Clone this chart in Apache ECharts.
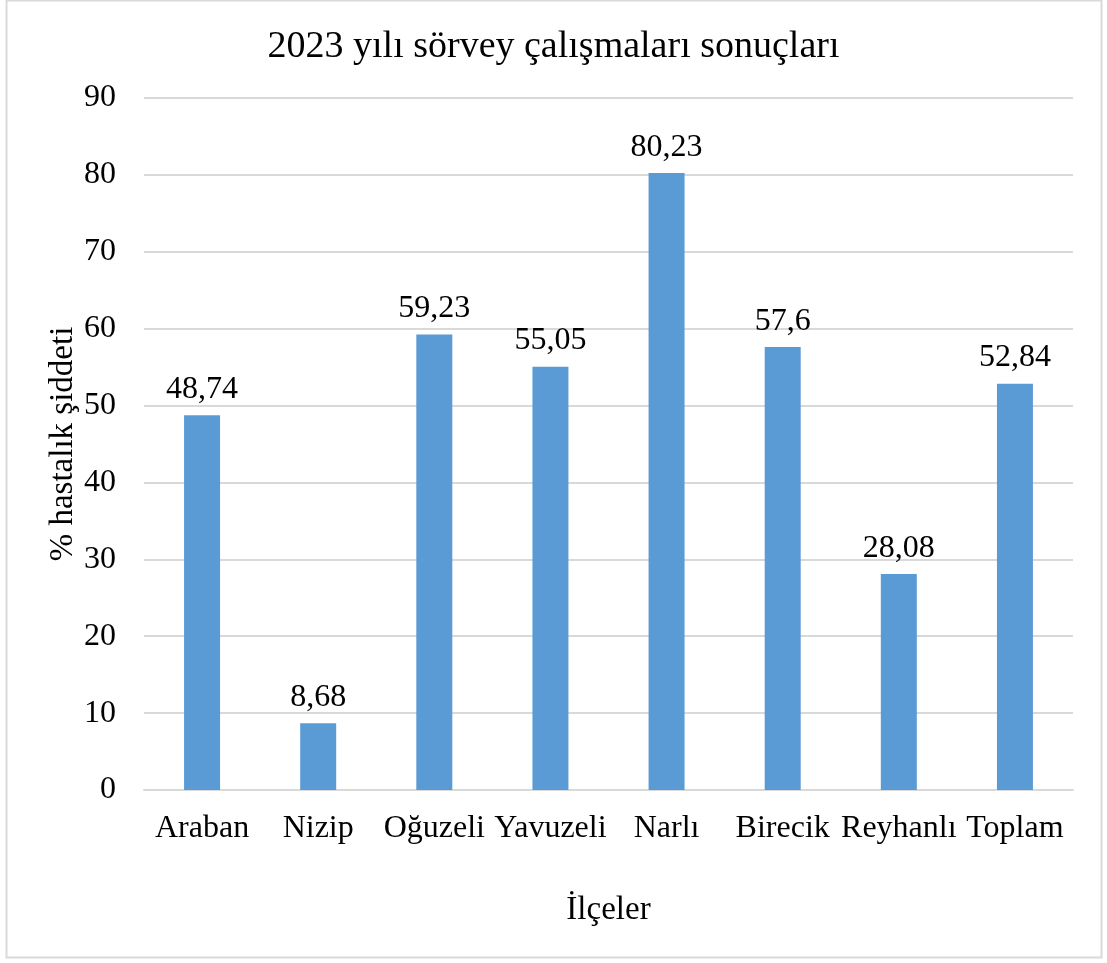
<!DOCTYPE html>
<html>
<head>
<meta charset="utf-8">
<script src="https://cdn.jsdelivr.net/npm/echarts@6/dist/echarts.min.js"></script>
<style>
  html, body { margin: 0; padding: 0; background: #ffffff; }
  #chart { width: 1107px; height: 963px; }
</style>
</head>
<body>
<div id="chart"></div>
<script>
// İlçe bazında hastalık şiddeti (%)
const categories = ['Araban', 'Nizip', 'Oğuzeli', 'Yavuzeli', 'Narlı', 'Birecik', 'Reyhanlı', 'Toplam'];
const severity = [48.74, 8.68, 59.23, 55.05, 80.23, 57.6, 28.08, 52.84];
const yTicks = [0, 10, 20, 30, 40, 50, 60, 70, 80, 90];

const FONT = '"Liberation Serif", "Times New Roman", serif';

const chart = echarts.init(document.getElementById('chart'), null, { renderer: 'canvas' });

chart.setOption({
  backgroundColor: '#ffffff',
  animation: false,
  textStyle: { fontFamily: FONT, color: '#000000' },
  title: {
    text: '2023 yılı sörvey çalışmaları sonuçları',
    left: 'center',
    top: 23,
    textStyle: { fontFamily: FONT, fontSize: 38, fontWeight: 'normal', color: '#000000' }
  },
  graphic: [{
    type: 'rect',
    shape: { x: 6.5, y: 0.5, width: 1095, height: 957 },
    style: { fill: 'none', stroke: '#d9d9d9', lineWidth: 2 },
    silent: true,
    z: -1
  }],
  grid: { left: 144, right: 34, top: 98, bottom: 173 },
  xAxis: {
    type: 'category',
    data: categories,
    name: 'İlçeler',
    nameLocation: 'middle',
    nameGap: 104,
    nameMoveOverlap: false,
    nameTextStyle: { fontFamily: FONT, fontSize: 33, color: '#000000' },
    axisLine: { lineStyle: { color: '#d9d9d9', width: 2 } },
    axisTick: { show: false },
    axisLabel: { fontFamily: FONT, fontSize: 32, color: '#000000', margin: 23, interval: 0 }
  },
  yAxis: {
    type: 'value',
    min: yTicks[0],
    max: yTicks[yTicks.length - 1],
    interval: 10,
    name: '% hastalık şiddeti',
    nameLocation: 'middle',
    nameGap: 64,
    nameMoveOverlap: false,
    nameTextStyle: { fontFamily: FONT, fontSize: 33, color: '#000000' },
    axisLine: { show: false },
    axisTick: { show: false },
    axisLabel: { fontFamily: FONT, fontSize: 32, color: '#000000', margin: 28 },
    splitLine: { lineStyle: { color: '#d9d9d9', width: 2 } }
  },
  series: [{
    type: 'bar',
    data: severity,
    barWidth: 36,
    itemStyle: { color: '#5b9bd5' },
    label: {
      show: true,
      position: 'top',
      distance: 10,
      fontFamily: FONT,
      fontSize: 32,
      color: '#000000',
      formatter: p => String(p.value).replace('.', ',')
    }
  }]
});
</script>
</body>
</html>
